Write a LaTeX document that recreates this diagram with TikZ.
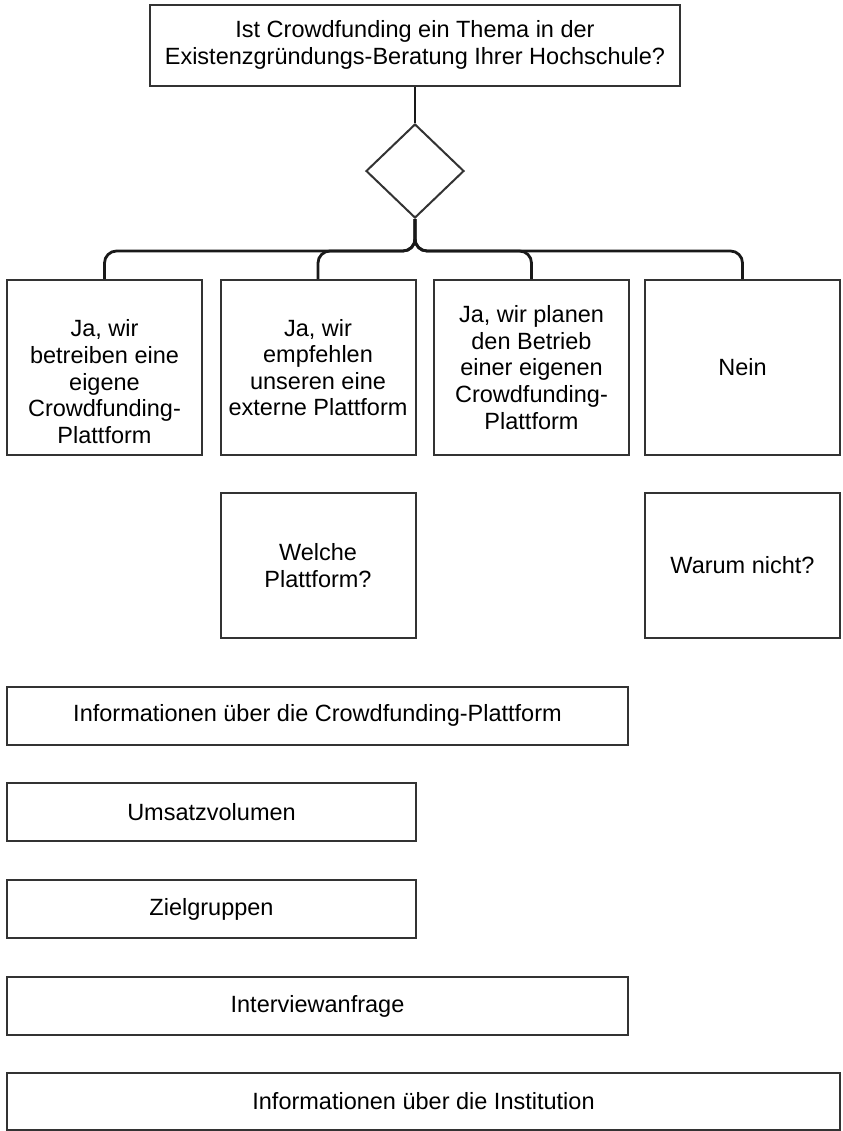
\documentclass[tikz,border=0pt]{standalone}
\usepackage{fontspec}
\setmainfont{Liberation Sans}
\usetikzlibrary{positioning}
\usetikzlibrary{math}
\usetikzlibrary{shapes.geometric}

\begin{document}
\begin{tikzpicture}[x=0.5pt,y=-0.5pt,
	box/.style={draw=black!80,line width=1pt,fill=white,align=center,inner sep=0pt,font=\fontsize{11.75}{13.3}\selectfont},
	link/.style={draw=black!90,line width=1.4pt,rounded corners=6pt}]
	\tikzmath{\qx=415; \qy=45;
	\dmx=415; \dmy=171; \drop=32;
	\iax=104.5; \ibx=318; \icx=531.5; \idx=742.5; \iy=367.5;
	\jy=565.5;
	\bax=317.5; \bay=715.5;
	\bbx=211.5; \bby=812;
	\bcx=211.5; \bcy=909;
	\bdx=317.5; \bdy=1006;
	\bex=423.5; \bey=1101.5;
	}
	\useasboundingbox (0,0) rectangle (842,1131);
	\node[box,minimum width=265pt,minimum height=40.5pt] (frage) at (\qx,\qy)
		{Ist Crowdfunding ein Thema in der\\Existenzgründungs-Beratung Ihrer Hochschule?};
	\node[box,diamond,minimum width=49pt,minimum height=47pt] (wahl) at (\dmx,\dmy) {};
	\node[box,minimum width=97.5pt,minimum height=87.5pt] (eigene) at (\iax,\iy)
		{\strut\\Ja, wir\\betreiben eine\\eigene\\Crowdfunding-\\Plattform};
	\node[box,minimum width=97.5pt,minimum height=87.5pt] (extern) at (\ibx,\iy)
		{Ja, wir\\empfehlen\\unseren eine\\externe Plattform};
	\node[box,minimum width=97.5pt,minimum height=87.5pt] (planen) at (\icx,\iy)
		{Ja, wir planen\\den Betrieb\\einer eigenen\\Crowdfunding-\\Plattform};
	\node[box,minimum width=97.5pt,minimum height=87.5pt] (nein) at (\idx,\iy) {Nein};
	\node[box,minimum width=97.5pt,minimum height=72.5pt] (welche) at (\ibx,\jy) {Welche\\Plattform?};
	\node[box,minimum width=97.5pt,minimum height=72.5pt] (warum) at (\idx,\jy) {Warum nicht?};
	\node[box,minimum width=310.5pt,minimum height=29pt] (infoplatt) at (\bax,\bay)
		{Informationen über die Crowdfunding-Plattform};
	\node[box,minimum width=204.5pt,minimum height=29pt] (umsatz) at (\bbx,\bby) {Umsatzvolumen};
	\node[box,minimum width=204.5pt,minimum height=29pt] (ziel) at (\bcx,\bcy) {Zielgruppen};
	\node[box,minimum width=310.5pt,minimum height=29pt] (interview) at (\bdx,\bdy) {Interviewanfrage};
	\node[box,minimum width=416.5pt,minimum height=28.5pt] (institution) at (\bex,\bey)
		{Informationen über die Institution};
	\draw[link] (frage) -- (wahl);
	\draw[link] (wahl.south) -- ++(0,\drop) -| (eigene.north);
	\draw[link] (wahl.south) -- ++(0,\drop) -| (extern.north);
	\draw[link] (wahl.south) -- ++(0,\drop) -| (planen.north);
	\draw[link] (wahl.south) -- ++(0,\drop) -| (nein.north);
\end{tikzpicture}
\end{document}
